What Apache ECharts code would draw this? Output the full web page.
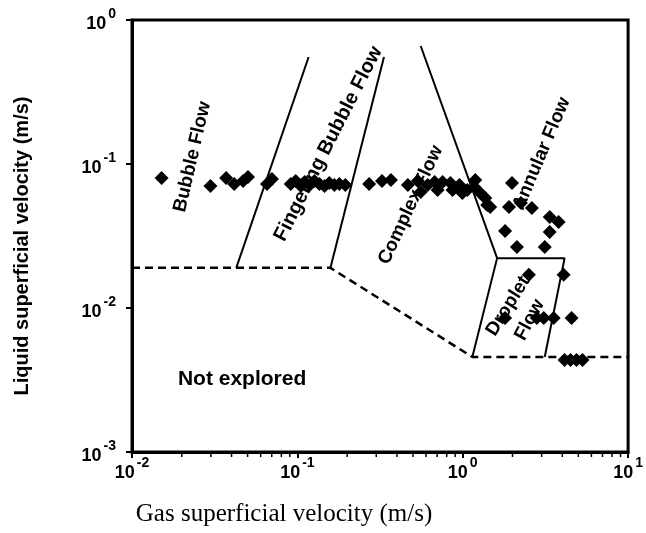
<!DOCTYPE html>
<html>
<head>
<meta charset="utf-8">
<script src="https://cdn.jsdelivr.net/npm/echarts@6/dist/echarts.min.js"></script>
<style>
  html, body { margin: 0; padding: 0; background: #fff; }
  #chart { width: 646px; height: 533px; }
</style>
</head>
<body>
<div id="chart"></div>
<script>
// Measured operating points: gas and liquid superficial velocity (m/s)
const gasVelocity = [
  0.0151, 0.0298, 0.0371, 0.0415, 0.047, 0.0503, 0.0655, 0.0702,
  0.0912, 0.0977, 0.105, 0.1107, 0.1186, 0.127, 0.136, 0.146, 0.156, 0.1675, 0.1795, 0.195,
  0.2716, 0.325, 0.368, 0.466, 0.535, 0.557, 0.614, 0.676, 0.705, 0.755, 0.843, 0.867,
  0.955, 0.995, 1.067, 1.175, 1.191, 1.276, 1.368, 1.406, 1.466,
  1.986, 1.905, 2.249, 2.618, 3.357, 3.80, 3.357, 1.803, 2.128, 3.133,
  2.512, 4.074, 1.803, 2.805, 3.09, 3.548, 4.55, 4.13, 4.49, 4.875, 5.30
];
const liquidVelocity = [
  0.080, 0.0703, 0.080, 0.0726, 0.0762, 0.0812, 0.0726, 0.0787,
  0.0726, 0.0762, 0.0703, 0.075, 0.0715, 0.0762, 0.0726, 0.0703, 0.0738, 0.0715, 0.0726, 0.0715,
  0.0726, 0.0762, 0.0774, 0.0715, 0.0762, 0.064, 0.0715, 0.075, 0.066, 0.075, 0.0738, 0.066,
  0.0715, 0.0629, 0.066, 0.0692, 0.0774, 0.0629, 0.058, 0.0519, 0.0503,
  0.0738, 0.0503, 0.0536, 0.0495, 0.0428, 0.0396, 0.0337, 0.0342, 0.0265, 0.0265,
  0.0170, 0.0170, 0.00853, 0.00853, 0.00853, 0.00853, 0.00853, 0.00435, 0.00435, 0.00435, 0.00435
];

// Regime boundaries (solid) as [gas, liquid] vertices
const bubbleFingerBoundary = [[0.0427, 0.019], [0.117, 0.553]];
const fingerComplexBoundary = [[0.1585, 0.019], [0.334, 0.553]];
const complexAnnularBoundary = [[0.557, 0.660], [1.614, 0.0222]];
const dropletBox = [[1.143, 0.00457], [1.614, 0.0222], [4.13, 0.0222], [3.133, 0.00457]];
// Limit of the explored range (dashed)
const exploredLimit = [[0.01, 0.019], [0.1585, 0.019], [1.143, 0.00457], [10, 0.00457]];

// Regime names with anchor point [gas, liquid], text angle (deg) and size
const regimeNames = ['Bubble Flow', 'Fingering Bubble Flow', 'Complex Flow', 'Annular Flow', 'Droplet', 'Flow', 'Not explored'];
const regimeAnchors = [[0.0232, 0.112], [0.154, 0.138], [0.485, 0.0519], [3.0, 0.118], [1.88, 0.0103], [2.54, 0.00826], [0.0463, 0.00321]];
const regimeAngles = [77, 63, 65, 67, 58, 62, 0];
const regimeFontSizes = [19, 20, 19, 19, 19, 19, 21];

// Log-axis minor tick positions
const xMinorTicks = [0.02, 0.03, 0.04, 0.05, 0.06, 0.07, 0.08, 0.09,
  0.2, 0.3, 0.4, 0.5, 0.6, 0.7, 0.8, 0.9, 2, 3, 4, 5, 6, 7, 8, 9];
const yMinorTicks = [0.002, 0.003, 0.004, 0.005, 0.006, 0.007, 0.008, 0.009,
  0.02, 0.03, 0.04, 0.05, 0.06, 0.07, 0.08, 0.09, 0.2, 0.3, 0.4, 0.5, 0.6, 0.7, 0.8, 0.9];

const X_MIN = 0.01, X_MAX = 10, Y_MIN = 0.001, Y_MAX = 1;

const chart = echarts.init(document.getElementById('chart'), null, { renderer: 'canvas' });

function powLabel(v) {
  const e = Math.round(Math.log10(v));
  return '{b|10}{e|' + e + '}';
}
const tickRich = {
  b: { fontFamily: 'Liberation Sans', fontWeight: 'bold', fontSize: 18, color: '#000', lineHeight: 26, verticalAlign: 'bottom' },
  e: { fontFamily: 'Liberation Sans', fontWeight: 'bold', fontSize: 14, color: '#000', lineHeight: 14, verticalAlign: 'top', padding: [0, 0, 0, 2] }
};

function tickRenderer(axis) {
  return function (params, api) {
    const v = api.value(0);
    const p = axis === 'x' ? api.coord([v, Y_MIN]) : api.coord([X_MIN, v]);
    const shape = axis === 'x'
      ? { x1: p[0], y1: p[1], x2: p[0], y2: p[1] + 5 }
      : { x1: p[0], y1: p[1], x2: p[0] - 5, y2: p[1] };
    return { type: 'line', shape: shape, style: { stroke: '#000', lineWidth: 1.5 } };
  };
}

const lineStyleSolid = { color: '#000', width: 2 };

const option = {
  backgroundColor: '#fff',
  animation: false,
  grid: {
    left: 132, right: 14, top: 20, bottom: 81,
    show: true, borderColor: '#000', borderWidth: 3, backgroundColor: 'transparent'
  },
  xAxis: {
    type: 'log', logBase: 10, min: X_MIN, max: X_MAX,
    axisLine: { show: true, lineStyle: { color: '#000', width: 3 } },
    axisTick: { show: true, length: 6, lineStyle: { color: '#000', width: 2 } },
    splitLine: { show: false },
    axisLabel: { formatter: powLabel, rich: tickRich, margin: 4 }
  },
  yAxis: {
    type: 'log', logBase: 10, min: Y_MIN, max: Y_MAX,
    axisLine: { show: true, lineStyle: { color: '#000', width: 3 } },
    axisTick: { show: true, length: 6, lineStyle: { color: '#000', width: 2 } },
    splitLine: { show: false },
    axisLabel: { formatter: powLabel, rich: tickRich, margin: 16 }
  },
  graphic: [
    {
      type: 'text', x: 284, y: 514,
      style: { text: 'Gas superficial velocity (m/s)', font: '25px "Liberation Serif"', fill: '#000', textAlign: 'center', textVerticalAlign: 'middle' }
    },
    {
      type: 'text', x: 22, y: 246, rotation: Math.PI / 2,
      style: { text: 'Liquid superficial velocity (m/s)', font: 'bold 20px "Liberation Sans"', fill: '#000', textAlign: 'center', textVerticalAlign: 'middle' }
    }
  ],
  series: [
    { type: 'line', data: exploredLimit, showSymbol: false, symbol: 'none', lineStyle: { color: '#000', width: 2.5, type: [8, 5] }, z: 3 },
    { type: 'line', data: bubbleFingerBoundary, symbol: 'none', lineStyle: lineStyleSolid, z: 3 },
    { type: 'line', data: fingerComplexBoundary, symbol: 'none', lineStyle: lineStyleSolid, z: 3 },
    { type: 'line', data: complexAnnularBoundary, symbol: 'none', lineStyle: lineStyleSolid, z: 3 },
    { type: 'line', data: dropletBox, symbol: 'none', lineStyle: lineStyleSolid, z: 3 },
    {
      type: 'scatter',
      data: gasVelocity.map((g, i) => [g, liquidVelocity[i]]),
      symbol: 'diamond', symbolSize: 14,
      itemStyle: { color: '#000', opacity: 1 }, z: 4
    },
    {
      type: 'scatter',
      data: regimeNames.map((n, i) => ({
        name: n, value: regimeAnchors[i],
        label: { rotate: regimeAngles[i], fontSize: regimeFontSizes[i] }
      })),
      symbolSize: 0, silent: true, z: 5,
      itemStyle: { opacity: 1, color: '#000' },
      label: {
        show: true, position: 'inside', formatter: '{b}',
        fontFamily: 'Liberation Sans', fontWeight: 'bold', color: '#000', opacity: 1
      }
    },
    { type: 'custom', renderItem: tickRenderer('x'), data: xMinorTicks.map(v => [v, Y_MIN]), clip: false, silent: true, z: 6 },
    { type: 'custom', renderItem: tickRenderer('y'), data: yMinorTicks.map(v => [X_MIN, v]), clip: false, silent: true, z: 6 }
  ]
};

chart.setOption(option);
</script>
</body>
</html>
